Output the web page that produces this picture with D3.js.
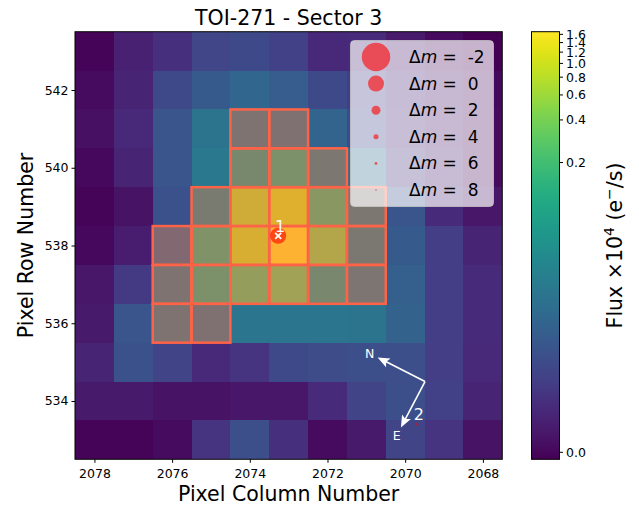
<!DOCTYPE html>
<html><head><meta charset="utf-8">
<script src="https://cdn.jsdelivr.net/npm/d3@7"></script>
<style>body{margin:0;background:#fff}svg{display:block;font-family:"DejaVu Sans",sans-serif}</style>
</head><body>
<svg id="c" width="639" height="509"></svg>
<script>
// ---- data ----
const columns = [2078,2077,2076,2075,2074,2073,2072,2071,2070,2069,2068];
const rows = [543,542,541,540,539,538,537,536,535,534,533];
// flux (x10^4 e-/s), one array per row (top to bottom), columns left to right
const row543 = [-0.00008,0.00124,0.00252,0.00525,0.00576,0.00433,0.0017,0.00196,0.00084,0.00018,-0.0002];
const row542 = [0.00018,0.00146,0.00576,0.00968,0.01445,0.01051,0.00576,0.00392,0.00146,0.00066,0.00005];
const row541 = [0.00033,0.0017,0.00819,0.02117,0.02852,0.0246,0.01336,0.00576,0.00196,0.00084,0.00018];
const row540 = [0.00005,0.00146,0.00819,0.0246,0.0838,0.1191,0.0355,0.01687,0.00284,0.00103,0.00018];
const row539 = [-0.00008,0.00049,0.00752,0.0441,0.7271,0.9591,0.1811,0.0355,0.00819,0.00196,0.00066];
const row538 = [0.00005,0.00103,0.01687,0.137,0.8352,1.67,0.4477,0.0382,0.00968,0.00392,0.00146];
const row537 = [0.00066,0.00353,0.02852,0.1191,0.2395,0.3163,0.0781,0.0307,0.0114,0.00392,0.00196];
const row536 = [0.00084,0.00819,0.02852,0.0246,0.02283,0.02283,0.02283,0.02117,0.01234,0.00392,0.00196];
const row535 = [0.00146,0.00752,0.00478,0.0017,0.00284,0.00576,0.00631,0.00689,0.00689,0.00392,0.0017];
const row534 = [0.00084,0.00084,0.00049,0.00049,0.00066,0.00066,0.00196,0.00478,0.00689,0.00433,0.00146];
const row533 = [-0.00008,-0.00008,0.00018,0.00284,0.00689,0.00252,0.00018,0.00084,0.00478,0.00284,0.00049];
const fluxRows = [row543,row542,row541,row540,row539,row538,row537,row536,row535,row534,row533];
// aperture pixels [column,row]
const aperture = [[2074,541],[2073,541],
  [2074,540],[2073,540],[2072,540],
  [2075,539],[2074,539],[2073,539],[2072,539],[2071,539],
  [2076,538],[2075,538],[2074,538],[2073,538],[2072,538],[2071,538],
  [2076,537],[2075,537],[2074,537],[2073,537],[2072,537],[2071,537],
  [2076,536],[2075,536]];
const stars = [{id:"1",col:2073.27,row:538.25,dm:0},{id:"2",col:2069.70,row:533.40,dm:6.3}];
const legendDm = [-2,0,2,4,6,8];
const xTicks = [2078,2076,2074,2072,2070,2068];
const yTicks = [534,536,538,540,542];
const cbTicks = [0.0,0.2,0.4,0.6,0.8,1.0,1.2,1.4,1.6];
const vmin = -0.0002, vmax = 1.67;
const compass = {col:2069.49, row:534.50, n:[2070.71,535.12], e:[2070.11,533.32]};

// ---- drawing ----
const svg = d3.select("#c");
const L=75, R=502.3, T=31.7, B=459.3;
const x = d3.scaleLinear().domain([2078.5,2067.5]).range([L,R]);
const y = d3.scaleLinear().domain([543.5,532.5]).range([T,B]);
const a = 1000;
const stretch = v => { const n=(v-vmin)/(vmax-vmin); return Math.log(a*Math.max(0,Math.min(1,n))+1)/Math.log(a+1); };
const color = v => d3.interpolateViridis(stretch(v));

const cells=[];
rows.forEach((r,i)=>columns.forEach((c,j)=>cells.push({r,c,v:fluxRows[i][j]})));
const plot = svg.append("g");
plot.selectAll("rect.px").data(cells).join("rect")
  .attr("x",d=>x(d.c+0.5)).attr("y",d=>y(d.r+0.5))
  .attr("width",x(0)-x(1)).attr("height",y(0)-y(1))
  .attr("fill",d=>color(d.v)).attr("shape-rendering","crispEdges");

// aperture
plot.selectAll("rect.apf").data(aperture).join("rect")
  .attr("x",d=>x(d[0]+0.5)).attr("y",d=>y(d[1]+0.5))
  .attr("width",x(0)-x(1)).attr("height",y(0)-y(1))
  .attr("fill","tomato").attr("fill-opacity",0.4);
plot.selectAll("rect.ape").data(aperture).join("rect")
  .attr("x",d=>x(d[0]+0.5)).attr("y",d=>y(d[1]+0.5))
  .attr("width",x(0)-x(1)).attr("height",y(0)-y(1))
  .attr("fill","none").attr("stroke","tomato").attr("stroke-width",2.5);

// stars
const rad = dm => 8*Math.pow(10,-dm/8);
plot.selectAll("circle.st").data(stars).join("circle")
  .attr("cx",d=>x(d.col)).attr("cy",d=>y(d.row)).attr("r",d=>rad(d.dm))
  .attr("fill","red").attr("fill-opacity",0.6);
const s1=stars[0], sx=x(s1.col), sy=y(s1.row);
plot.append("path").attr("d",`M${sx-3},${sy-3}L${sx+3},${sy+3}M${sx-3},${sy+3}L${sx+3},${sy-3}`)
  .attr("stroke","white").attr("stroke-width",1.8);
plot.selectAll("text.st").data(stars).join("text")
  .attr("x",d=>x(d.col)+2).attr("y",d=>y(d.row)-4).attr("text-anchor","middle")
  .attr("fill","white").attr("font-size",16).text(d=>d.id);

// compass
const cx0=x(compass.col), cy0=y(compass.row);
[["N",compass.n],["E",compass.e]].forEach(([lab,p])=>{
  const tx=x(p[0]), ty=y(p[1]);
  const dx=tx-cx0, dy=ty-cy0, len=Math.hypot(dx,dy);
  const ux=dx/len, uy=dy/len, px=-uy, py=ux;
  const hl=12, hw=5;
  plot.append("line").attr("x1",cx0).attr("y1",cy0).attr("x2",tx-ux*8).attr("y2",ty-uy*8)
    .attr("stroke","white").attr("stroke-width",1.6);
  plot.append("path").attr("d",`M${tx},${ty}L${tx-ux*hl+px*hw},${ty-uy*hl+py*hw}L${tx-ux*hl*0.8},${ty-uy*hl*0.8}L${tx-ux*hl-px*hw},${ty-uy*hl-py*hw}Z`)
    .attr("fill","white");
  plot.append("text").attr("x",tx+ux*9).attr("y",ty+uy*9+4.5).attr("text-anchor","middle")
    .attr("fill","white").attr("font-size",12.5).text(lab);
});

// legend
const lg = svg.append("g");
lg.append("rect").attr("x",350.5).attr("y",40.5).attr("width",143).attr("height",166).attr("rx",4)
  .attr("fill","white").attr("fill-opacity",0.7).attr("stroke","#cccccc").attr("stroke-opacity",0.7);
const ly = d3.scaleLinear().domain([0,5]).range([57,190]);
legendDm.forEach((dm,i)=>{
  lg.append("circle").attr("cx",376).attr("cy",ly(i)).attr("r",rad(dm)).attr("fill","red").attr("fill-opacity",0.6);
  const t=lg.append("text").attr("x",409).attr("y",ly(i)+6).attr("font-size",17).attr("fill","black");
  t.append("tspan").text("Δ");
  t.append("tspan").attr("font-style","italic").text("m");
  t.append("tspan").attr("xml:space","preserve").text(" =  "+dm);
});

// axes frame
svg.append("rect").attr("x",L).attr("y",T).attr("width",R-L).attr("height",B-T)
  .attr("fill","none").attr("stroke","black").attr("stroke-width",1);
const xa = svg.append("g").attr("transform",`translate(0,${B})`)
  .call(d3.axisBottom(x).tickValues(xTicks).tickFormat(d3.format("d")).tickSizeOuter(0).tickSize(3.5));
const ya = svg.append("g").attr("transform",`translate(${L},0)`)
  .call(d3.axisLeft(y).tickValues(yTicks).tickFormat(d3.format("d")).tickSizeOuter(0).tickSize(3.5));
[xa,ya].forEach(g=>{g.select(".domain").remove();g.selectAll("text").attr("font-size",12.5).attr("font-family","DejaVu Sans").attr("fill","black");g.selectAll("line").attr("stroke","black");});
xa.selectAll("text").attr("dy","0.95em");

// titles
svg.append("text").attr("x",(L+R)/2).attr("y",25).attr("text-anchor","middle").attr("font-size",20.5).text("TOI-271 - Sector 3");
svg.append("text").attr("x",(L+R)/2).attr("y",501).attr("text-anchor","middle").attr("font-size",20.5).text("Pixel Column Number");
svg.append("text").attr("transform",`translate(33,${(T+B)/2}) rotate(-90)`).attr("text-anchor","middle").attr("font-size",20.5).text("Pixel Row Number");

// colorbar
const cbL=531.5, cbW=28, cbT=T, cbB=B;
const grad = svg.append("defs").append("linearGradient").attr("id","vg").attr("x1",0).attr("y1",1).attr("x2",0).attr("y2",0);
d3.range(0,1.0001,0.02).forEach(t=>grad.append("stop").attr("offset",t).attr("stop-color",d3.interpolateViridis(t)));
svg.append("rect").attr("x",cbL).attr("y",cbT).attr("width",cbW).attr("height",cbB-cbT).attr("fill","url(#vg)").attr("stroke","black").attr("stroke-width",1);
const cby = v => cbB - stretch(v)*(cbB-cbT);
const cbg = svg.append("g");
cbTicks.forEach(v=>{
  cbg.append("line").attr("x1",cbL+cbW).attr("x2",cbL+cbW+3.5).attr("y1",cby(v)).attr("y2",cby(v)).attr("stroke","black");
  cbg.append("text").attr("x",cbL+cbW+6.5).attr("y",cby(v)+4.5).attr("font-size",12.5).text(v.toFixed(1));
});
const cl = svg.append("text").attr("transform",`translate(622,${(T+B)/2}) rotate(-90)`).attr("text-anchor","middle").attr("font-size",20.5);
cl.append("tspan").text("Flux ×10");
cl.append("tspan").attr("font-size",14).attr("dy",-8).text("4");
cl.append("tspan").attr("dy",8).text(" (e");
cl.append("tspan").attr("font-size",14).attr("dy",-8).text("−");
cl.append("tspan").attr("dy",8).text("/s)");
</script>
</body></html>
